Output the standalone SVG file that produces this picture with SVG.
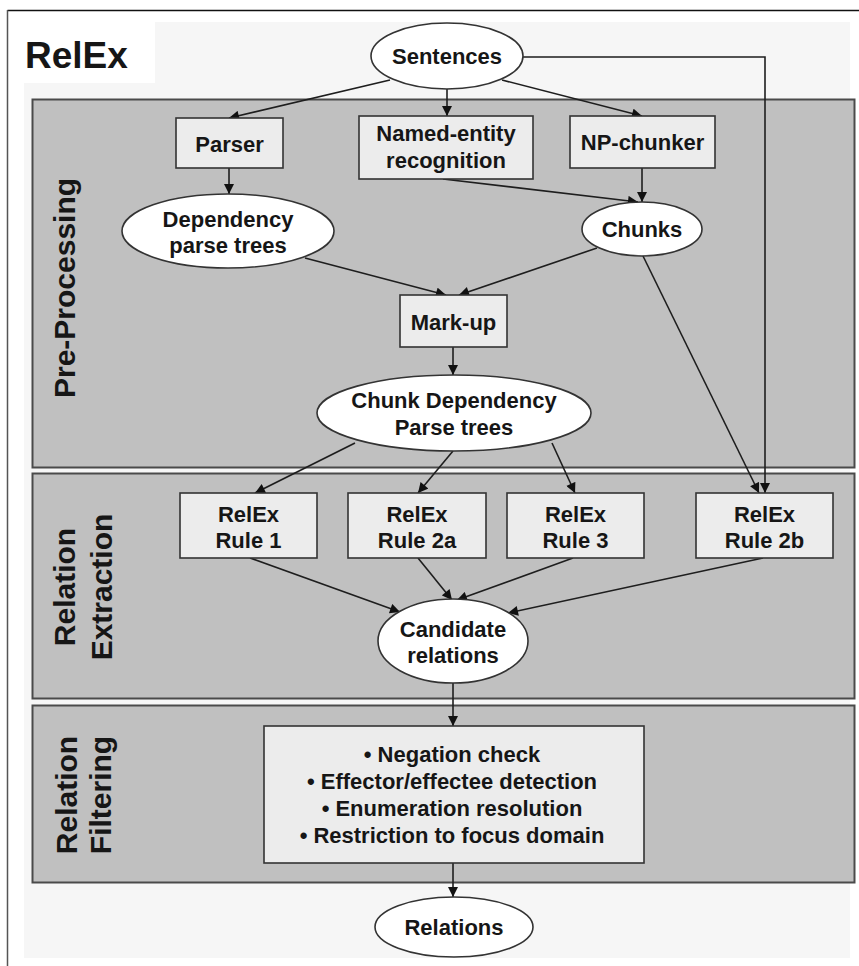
<svg xmlns="http://www.w3.org/2000/svg" width="859" height="966" viewBox="0 0 859 966">
  <style>
    text { font-family: "Liberation Sans", Arial, Helvetica, sans-serif; font-weight: bold; fill: #161616; }
    .lbl { font-size: 22px; text-anchor: middle; }
    .side { font-size: 30px; text-anchor: middle; }
    .panel { fill: #c0c0c0; stroke: #4a4a4a; stroke-width: 2; }
    .box { fill: #ececec; stroke: #333; stroke-width: 1.6; }
    .oval { fill: #ffffff; stroke: #333; stroke-width: 1.6; }
    .edge { fill: none; stroke: #1e1e1e; stroke-width: 1.6; marker-end: url(#arrow); }
  </style>
  <defs>
    <marker id="arrow" viewBox="0 0 10 10" refX="10" refY="5" markerWidth="11" markerHeight="10" markerUnits="userSpaceOnUse" orient="auto">
      <path d="M0,0 L10,5 L0,10 z" fill="#111"/>
    </marker>
  </defs>

  <!-- page frame -->
  <rect x="0" y="0" width="859" height="966" fill="#ffffff"/>
  <line x1="7.5" y1="10.5" x2="859" y2="10.5" stroke="#111" stroke-width="1.5"/>
  <line x1="7.5" y1="10" x2="7.5" y2="966" stroke="#555" stroke-width="1.5"/>
  <rect x="24" y="22" width="826" height="936" fill="#f6f6f6"/>
  <rect x="24" y="22" width="131" height="61" fill="#ffffff"/>
  <text x="25" y="68" style="font-size:37px">RelEx</text>

  <!-- stage panels -->
  <g id="stage-preprocessing">
    <rect class="panel" x="32.5" y="99.5" width="822" height="368"/>
    <text class="side" transform="translate(75,288) rotate(-90)">Pre-Processing</text>
  </g>
  <g id="stage-extraction">
    <rect class="panel" x="32.5" y="473.5" width="822" height="225"/>
    <text class="side" transform="translate(75,587) rotate(-90)">Relation</text>
    <text class="side" transform="translate(112,587) rotate(-90)">Extraction</text>
  </g>
  <g id="stage-filtering">
    <rect class="panel" x="32.5" y="705.5" width="822" height="177"/>
    <text class="side" transform="translate(77,795) rotate(-90)">Relation</text>
    <text class="side" transform="translate(111,795) rotate(-90)">Filtering</text>
  </g>

  <!-- connectors -->
  <g id="connectors">
    <path class="edge" d="M390,80 L229,118"/>
    <path class="edge" d="M447,89 L447,116"/>
    <path class="edge" d="M502,80 L642,116"/>
    <path class="edge" d="M523,57 H765 V493"/>
    <path class="edge" d="M229,168 V194"/>
    <path class="edge" d="M443,179 L638,202"/>
    <path class="edge" d="M642,168 V202"/>
    <path class="edge" d="M305,258 L446,295"/>
    <path class="edge" d="M597,248 L459,295"/>
    <path class="edge" d="M453,347 V375"/>
    <path class="edge" d="M643,256 L759,493"/>
    <path class="edge" d="M355,443 L255,493"/>
    <path class="edge" d="M453,451 L418,493"/>
    <path class="edge" d="M552,443 L575,493"/>
    <path class="edge" d="M250,558 L400,612"/>
    <path class="edge" d="M418,558 L452,600"/>
    <path class="edge" d="M573,558 L457,600"/>
    <path class="edge" d="M763,558 L508,613"/>
    <path class="edge" d="M453,683 V726"/>
    <path class="edge" d="M453,863 V897"/>
  </g>

  <!-- nodes -->
  <g id="sentences">
    <ellipse class="oval" cx="447" cy="56" rx="76" ry="33"/>
    <text class="lbl" x="447" y="64">Sentences</text>
  </g>
  <g id="parser">
    <rect class="box" x="176" y="118" width="107" height="50"/>
    <text class="lbl" x="229.5" y="152">Parser</text>
  </g>
  <g id="ner">
    <rect class="box" x="359" y="116" width="174" height="63"/>
    <text class="lbl" x="446" y="141">Named-entity</text>
    <text class="lbl" x="446" y="168">recognition</text>
  </g>
  <g id="np-chunker">
    <rect class="box" x="570" y="116" width="145" height="52"/>
    <text class="lbl" x="642.5" y="150">NP-chunker</text>
  </g>
  <g id="dependency-parse-trees">
    <ellipse class="oval" cx="228" cy="231" rx="106" ry="37"/>
    <text class="lbl" x="228" y="227">Dependency</text>
    <text class="lbl" x="228" y="253">parse trees</text>
  </g>
  <g id="chunks">
    <ellipse class="oval" cx="642" cy="229" rx="60" ry="27"/>
    <text class="lbl" x="642" y="237">Chunks</text>
  </g>
  <g id="mark-up">
    <rect class="box" x="400" y="295" width="107" height="52"/>
    <text class="lbl" x="453.5" y="330">Mark-up</text>
  </g>
  <g id="chunk-dependency-parse-trees">
    <ellipse class="oval" cx="454" cy="413" rx="137" ry="38"/>
    <text class="lbl" x="454" y="408">Chunk Dependency</text>
    <text class="lbl" x="454" y="435">Parse trees</text>
  </g>
  <g id="rule-1">
    <rect class="box" x="180" y="493" width="137" height="65"/>
    <text class="lbl" x="248.5" y="522">RelEx</text>
    <text class="lbl" x="248.5" y="548">Rule 1</text>
  </g>
  <g id="rule-2a">
    <rect class="box" x="348" y="493" width="138" height="65"/>
    <text class="lbl" x="417" y="522">RelEx</text>
    <text class="lbl" x="417" y="548">Rule 2a</text>
  </g>
  <g id="rule-3">
    <rect class="box" x="507" y="493" width="137" height="65"/>
    <text class="lbl" x="575.5" y="522">RelEx</text>
    <text class="lbl" x="575.5" y="548">Rule 3</text>
  </g>
  <g id="rule-2b">
    <rect class="box" x="696" y="493" width="137" height="65"/>
    <text class="lbl" x="764.5" y="522">RelEx</text>
    <text class="lbl" x="764.5" y="548">Rule 2b</text>
  </g>
  <g id="candidate-relations">
    <ellipse class="oval" cx="453" cy="641" rx="75" ry="42"/>
    <text class="lbl" x="453" y="637">Candidate</text>
    <text class="lbl" x="453" y="663">relations</text>
  </g>
  <g id="filters">
    <rect class="box" x="264" y="726" width="380" height="137"/>
    <text class="lbl" x="452" y="762">• Negation check</text>
    <text class="lbl" x="452" y="789">• Effector/effectee detection</text>
    <text class="lbl" x="452" y="816">• Enumeration resolution</text>
    <text class="lbl" x="452" y="843">• Restriction to focus domain</text>
  </g>
  <g id="relations">
    <ellipse class="oval" cx="454" cy="927" rx="79" ry="30"/>
    <text class="lbl" x="454" y="935">Relations</text>
  </g>
</svg>
